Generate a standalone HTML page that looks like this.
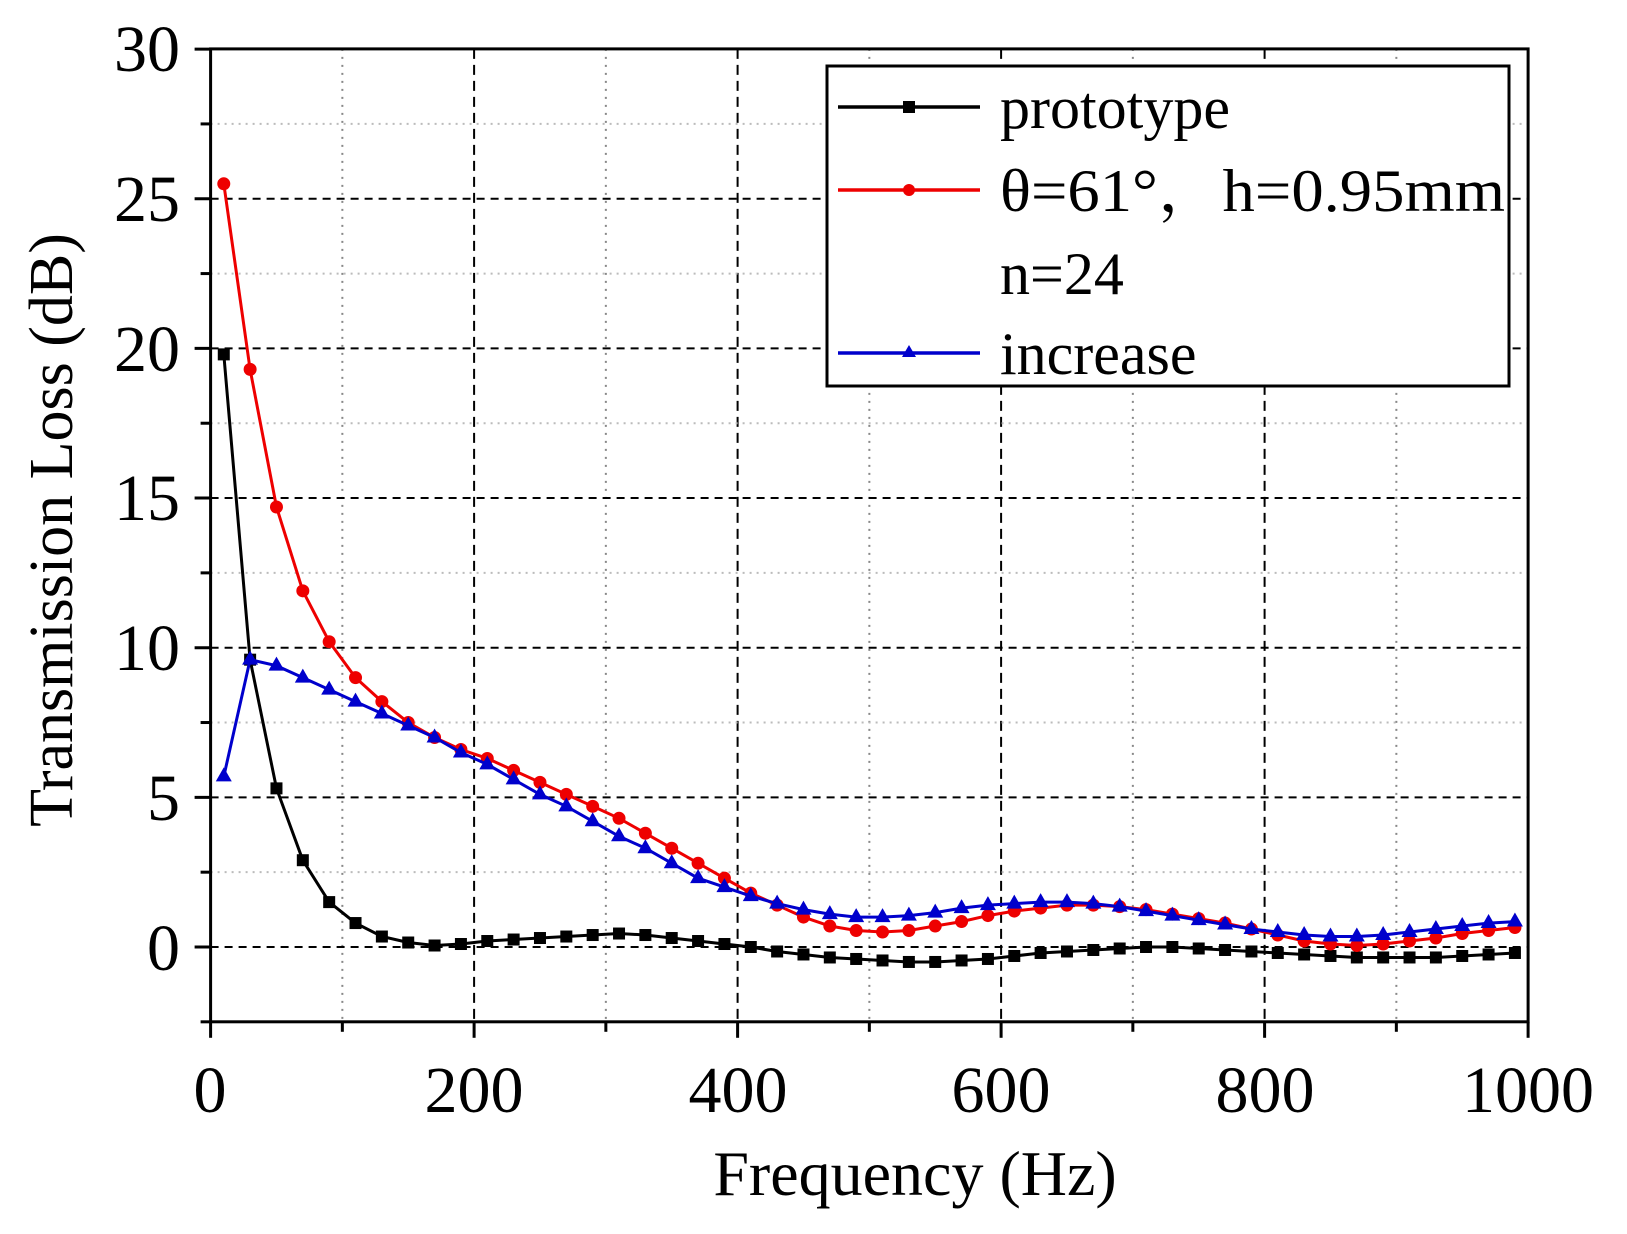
<!DOCTYPE html>
<html><head><meta charset="utf-8"><style>
html,body{margin:0;padding:0;background:#fff}
svg{display:block}
text{font-family:"Liberation Serif","Noto Serif CJK SC",serif;fill:#000}
</style></head><body>
<svg id="s" width="1627" height="1234" viewBox="0 0 1627 1234" xmlns="http://www.w3.org/2000/svg">
<g id="grid"></g>
<g id="data"></g>
<rect x="210.6" y="48.9" width="1317.5" height="972.9" fill="none" stroke="#000" stroke-width="3"/>
<g id="ticks"></g>
<g font-size="66" text-anchor="middle">
<text x="210" y="1112">0</text><text x="474" y="1112">200</text><text x="738" y="1112">400</text>
<text x="1001" y="1112">600</text><text x="1265" y="1112">800</text><text x="1528" y="1112">1000</text>
</g>
<g font-size="66" text-anchor="end">
<text x="180" y="970">0</text><text x="180" y="820">5</text><text x="180" y="670">10</text>
<text x="180" y="520">15</text><text x="180" y="371">20</text><text x="180" y="221">25</text><text x="180" y="71">30</text>
</g>
<text x="915" y="1195" font-size="64" text-anchor="middle">Frequency (Hz)</text>
<text transform="translate(72,530) rotate(-90)" font-size="62" text-anchor="middle">Transmission Loss (dB)</text>
<rect x="827" y="66" width="682" height="320" fill="#fff" stroke="#000" stroke-width="3"/>
<g stroke-width="3.5">
<line x1="838" y1="107" x2="980" y2="107" stroke="#000"/><rect x="903" y="101" width="12" height="12" fill="#000"/>
<line x1="838" y1="190" x2="980" y2="190" stroke="#e00"/><circle cx="909" cy="190" r="6" fill="#e00"/>
<line x1="838" y1="353" x2="980" y2="353" stroke="#00c"/><polygon points="909,345 902,357 916,357" fill="#00c"/>
</g>
<g font-size="60">
<text x="1000" y="128">prototype</text>
<text x="1000" y="211" textLength="505" lengthAdjust="spacingAndGlyphs">θ=61°，h=0.95mm</text>
<text x="1000" y="294">n=24</text>
<text x="1000" y="374">increase</text>
</g>
</svg>
<script>
var X=f=>210.6+f*1.3175, Y=v=>947-v*29.93, NS="http://www.w3.org/2000/svg";
function el(p,t,a){var e=document.createElementNS(NS,t);for(var k in a)e.setAttribute(k,a[k]);document.getElementById(p).appendChild(e);return e;}
for(var f=100;f<1000;f+=100){var maj=f%200==0;el("grid","line",{x1:X(f),x2:X(f),y1:48.9,y2:1021.8,stroke:maj?"#000":"#888","stroke-width":2,"stroke-dasharray":maj?"10,6":"2,6"});}
for(var v=2.5;v<30;v+=2.5){var maj=v%5==0;el("grid","line",{x1:210.6,x2:1528,y1:Y(v),y2:Y(v),stroke:maj?"#000":"#bbb","stroke-width":2,"stroke-dasharray":maj?"8,6":"2,5"});}
el("grid","line",{x1:210.6,x2:1528,y1:Y(0),y2:Y(0),stroke:"#000","stroke-width":2,"stroke-dasharray":"8,6"});
for(var f=0;f<=1000;f+=100){el("ticks","line",{x1:X(f),x2:X(f),y1:1021.8,y2:1021.8+(f%200==0?16:10),stroke:"#000","stroke-width":3});}
for(var v=-2.5;v<=30;v+=2.5){el("ticks","line",{x1:210.6,x2:210.6-(v%5==0?16:10),y1:Y(v),y2:Y(v),stroke:"#000","stroke-width":3});}
var K=[19.8,9.6,5.3,2.9,1.5,0.8,0.35,0.15,0.05,0.1,0.2,0.25,0.3,0.35,0.4,0.45,0.4,0.3,0.2,0.1,0.0,-0.15,-0.25,-0.35,-0.4,-0.45,-0.5,-0.5,-0.45,-0.4,-0.3,-0.2,-0.15,-0.1,-0.05,0,0,-0.05,-0.1,-0.15,-0.2,-0.25,-0.3,-0.35,-0.35,-0.35,-0.35,-0.3,-0.25,-0.2];
var R=[25.5,19.3,14.7,11.9,10.2,9.0,8.2,7.5,7.0,6.6,6.3,5.9,5.5,5.1,4.7,4.3,3.8,3.3,2.8,2.3,1.8,1.4,1.0,0.7,0.55,0.5,0.55,0.7,0.85,1.05,1.2,1.3,1.4,1.4,1.35,1.25,1.1,0.95,0.8,0.6,0.4,0.2,0.1,0.05,0.1,0.2,0.3,0.45,0.55,0.65];
var B=[5.7,9.6,9.4,9.0,8.6,8.2,7.8,7.4,7.0,6.5,6.1,5.6,5.1,4.7,4.2,3.7,3.3,2.8,2.3,2.0,1.7,1.45,1.25,1.1,1.0,1.0,1.05,1.15,1.3,1.4,1.45,1.5,1.5,1.45,1.35,1.2,1.05,0.9,0.75,0.6,0.5,0.4,0.35,0.35,0.4,0.5,0.6,0.7,0.8,0.85];
function series(d,c,m){var p=d.map((v,i)=>X(10+20*i).toFixed(1)+","+Y(v).toFixed(1)).join(" ");
el("data","polyline",{points:p,fill:"none",stroke:c,"stroke-width":3});
d.forEach((v,i)=>{var x=X(10+20*i),y=Y(v);
if(m=="s")el("data","rect",{x:x-6,y:y-6,width:12,height:12,fill:c});
else if(m=="c")el("data","circle",{cx:x,cy:y,r:6.5,fill:c});
else el("data","polygon",{points:x+","+(y-9)+" "+(x-8)+","+(y+5)+" "+(x+8)+","+(y+5),fill:c});});}
series(K,"#000","s");series(R,"#e00","c");series(B,"#00c","t");
</script>
</body></html>
